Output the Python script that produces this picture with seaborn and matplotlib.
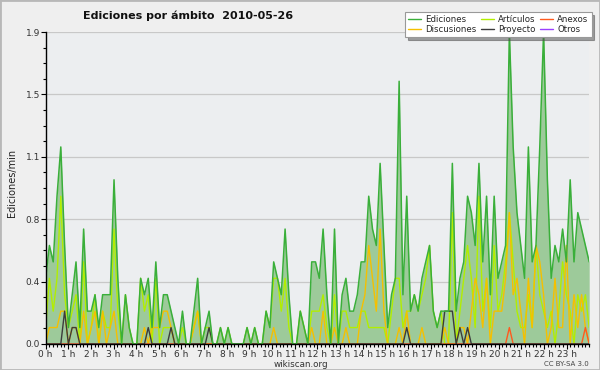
import numpy as np
import pandas as pd
import seaborn as sns
import matplotlib
matplotlib.use("Agg")
import matplotlib.pyplot as plt
from matplotlib.lines import Line2D
from matplotlib.patches import Rectangle
from matplotlib.ticker import FixedLocator, MultipleLocator

# ---- data: edits per minute, 10-minute buckets (144 per day) ----
ediciones = [
    0.4, 0.6, 0.5, 0.9, 1.2, 0.6,
    0.1, 0.3, 0.5, 0.1, 0.7, 0.2,
    0.2, 0.3, 0.1, 0.3, 0.3, 0.3,
    1.0, 0.4, 0.0, 0.3, 0.1, 0.0,
    0.0, 0.4, 0.3, 0.4, 0.1, 0.5,
    0.1, 0.3, 0.3, 0.2, 0.1, 0.0,
    0.2, 0.0, 0.0, 0.2, 0.4, 0.0,
    0.1, 0.2, 0.0, 0.0, 0.1, 0.0,
    0.1, 0.0, 0.0, 0.0, 0.0, 0.1,
    0.0, 0.1, 0.0, 0.0, 0.2, 0.1,
    0.5, 0.4, 0.3, 0.7, 0.3, 0.0,
    0.0, 0.2, 0.1, 0.0, 0.5, 0.5,
    0.4, 0.7, 0.3, 0.0, 0.7, 0.0,
    0.3, 0.4, 0.2, 0.2, 0.3, 0.5,
    0.5, 0.9, 0.7, 0.6, 1.1, 0.6,
    0.1, 0.3, 0.4, 1.6, 0.3, 0.9,
    0.2, 0.3, 0.2, 0.4, 0.5, 0.6,
    0.2, 0.1, 0.2, 0.2, 0.2, 1.1,
    0.2, 0.4, 0.5, 0.9, 0.8, 0.6,
    1.1, 0.5, 0.9, 0.3, 0.9, 0.4,
    0.5, 0.6, 1.9, 1.2, 0.8, 0.6,
    0.4, 1.2, 0.5, 0.6, 1.2, 1.9,
    1.0, 0.4, 0.6, 0.5, 0.7, 0.5,
    1.0, 0.5, 0.8, 0.7, 0.6, 0.5,
]
articulos = [
    0.1, 0.4, 0.2, 0.4, 0.9, 0.3,
    0.1, 0.2, 0.3, 0.0, 0.5, 0.0,
    0.1, 0.3, 0.0, 0.2, 0.1, 0.1,
    0.7, 0.2, 0.0, 0.3, 0.1, 0.0,
    0.0, 0.4, 0.2, 0.3, 0.0, 0.4,
    0.0, 0.1, 0.1, 0.1, 0.0, 0.0,
    0.1, 0.0, 0.0, 0.1, 0.2, 0.0,
    0.1, 0.1, 0.0, 0.0, 0.1, 0.0,
    0.1, 0.0, 0.0, 0.0, 0.0, 0.1,
    0.0, 0.1, 0.0, 0.0, 0.2, 0.1,
    0.4, 0.4, 0.2, 0.4, 0.1, 0.0,
    0.0, 0.2, 0.1, 0.0, 0.2, 0.2,
    0.2, 0.3, 0.1, 0.0, 0.3, 0.0,
    0.2, 0.2, 0.1, 0.1, 0.1, 0.2,
    0.2, 0.1, 0.1, 0.1, 0.1, 0.1,
    0.0, 0.2, 0.4, 0.4, 0.1, 0.2,
    0.2, 0.3, 0.2, 0.3, 0.4, 0.6,
    0.2, 0.1, 0.2, 0.0, 0.0, 0.8,
    0.0, 0.2, 0.4, 0.6, 0.4, 0.1,
    0.9, 0.2, 0.4, 0.1, 0.6, 0.2,
    0.3, 0.5, 0.8, 0.5, 0.2, 0.1,
    0.1, 0.3, 0.1, 0.6, 0.3, 0.2,
    0.1, 0.2, 0.0, 0.2, 0.5, 0.3,
    0.2, 0.0, 0.3, 0.2, 0.3, 0.1,
]
discusiones = [
    0.0, 0.1, 0.1, 0.1, 0.2, 0.2,
    0.0, 0.1, 0.1, 0.0, 0.2, 0.0,
    0.1, 0.2, 0.0, 0.2, 0.0, 0.1,
    0.2, 0.0, 0.0, 0.0, 0.0, 0.0,
    0.0, 0.0, 0.1, 0.0, 0.1, 0.1,
    0.1, 0.2, 0.2, 0.1, 0.0, 0.0,
    0.0, 0.0, 0.0, 0.1, 0.2, 0.0,
    0.0, 0.0, 0.0, 0.0, 0.0, 0.0,
    0.0, 0.0, 0.0, 0.0, 0.0, 0.0,
    0.0, 0.0, 0.0, 0.0, 0.0, 0.0,
    0.1, 0.0, 0.0, 0.0, 0.0, 0.0,
    0.0, 0.0, 0.0, 0.0, 0.1, 0.0,
    0.0, 0.2, 0.0, 0.0, 0.1, 0.0,
    0.0, 0.1, 0.0, 0.0, 0.0, 0.2,
    0.3, 0.6, 0.4, 0.2, 0.7, 0.2,
    0.0, 0.0, 0.0, 0.1, 0.0, 0.2,
    0.0, 0.0, 0.0, 0.1, 0.0, 0.0,
    0.0, 0.0, 0.0, 0.1, 0.0, 0.0,
    0.0, 0.1, 0.1, 0.0, 0.2, 0.4,
    0.3, 0.1, 0.4, 0.0, 0.2, 0.2,
    0.2, 0.4, 0.8, 0.3, 0.4, 0.2,
    0.0, 0.4, 0.1, 0.6, 0.5, 0.3,
    0.0, 0.1, 0.4, 0.1, 0.1, 0.6,
    0.0, 0.3, 0.1, 0.3, 0.1, 0.0,
]
proyecto = [
    0.0, 0.0, 0.0, 0.0, 0.0, 0.2,
    0.0, 0.1, 0.1, 0.0, 0.0, 0.0,
    0.0, 0.0, 0.0, 0.0, 0.0, 0.0,
    0.0, 0.0, 0.0, 0.0, 0.0, 0.0,
    0.0, 0.0, 0.0, 0.1, 0.0, 0.0,
    0.0, 0.0, 0.0, 0.1, 0.0, 0.0,
    0.0, 0.0, 0.0, 0.0, 0.0, 0.0,
    0.0, 0.1, 0.0, 0.0, 0.0, 0.0,
    0.0, 0.0, 0.0, 0.0, 0.0, 0.0,
    0.0, 0.0, 0.0, 0.0, 0.0, 0.0,
    0.0, 0.0, 0.0, 0.0, 0.0, 0.0,
    0.0, 0.0, 0.0, 0.0, 0.0, 0.0,
    0.0, 0.0, 0.0, 0.0, 0.0, 0.0,
    0.0, 0.0, 0.0, 0.0, 0.0, 0.0,
    0.0, 0.0, 0.0, 0.0, 0.0, 0.0,
    0.0, 0.0, 0.0, 0.0, 0.0, 0.1,
    0.0, 0.0, 0.0, 0.0, 0.0, 0.0,
    0.0, 0.0, 0.0, 0.2, 0.2, 0.2,
    0.0, 0.1, 0.0, 0.1, 0.0, 0.0,
    0.0, 0.0, 0.0, 0.0, 0.0, 0.0,
    0.0, 0.0, 0.0, 0.0, 0.0, 0.0,
    0.0, 0.0, 0.0, 0.0, 0.0, 0.0,
    0.0, 0.0, 0.0, 0.0, 0.0, 0.0,
    0.0, 0.0, 0.0, 0.0, 0.0, 0.0,
]
anexos = [0.0] * 144
anexos[122] = 0.1
anexos[142] = 0.1
otros = [0.0] * 144

hour_labels = [f"{h} h" for h in range(24)]
y_major = [0.0, 0.38, 0.76, 1.14, 1.52, 1.9]
y_labels = ["0.0", "0.4", "0.8", "1.1", "1.5", "1.9"]

colors = {
    "Ediciones": "#3aaf3a",
    "Artículos": "#b2ee00",
    "Anexos": "#ff5a1e",
    "Discusiones": "#f5c000",
    "Proyecto": "#3c3c3c",
    "Otros": "#9a40ff",
}

hours = np.linspace(0, 24, len(ediciones))
df = pd.DataFrame({
    "hora": hours,
    "Ediciones": ediciones,
    "Artículos": articulos,
    "Discusiones": discusiones,
    "Proyecto": proyecto,
    "Anexos": anexos,
    "Otros": otros,
})

sns.set_style("white")
plt.rcParams["font.family"] = ["DejaVu Sans"]

fig = plt.figure(figsize=(6.0, 3.7), dpi=100, facecolor="#efefef")
ax = fig.add_axes([0.076, 0.0703, 0.906, 0.8432])
ax.set_facecolor("#eceef0")

# fill under total
ax.fill_between(df["hora"], df["Ediciones"], 0, color="#9dca9a", linewidth=0, zorder=1)

for name in ["Otros", "Artículos", "Discusiones", "Anexos", "Proyecto"]:
    sns.lineplot(data=df, x="hora", y=name, ax=ax, color=colors[name],
                 linewidth=1.0, legend=False, zorder=3)
sns.lineplot(data=df, x="hora", y="Ediciones", ax=ax, color=colors["Ediciones"],
             linewidth=1.1, legend=False, zorder=4)

ax.set_xlim(0, 24)
ax.set_ylim(0, 1.9)
ax.set_xlabel("")
ax.set_ylabel("")

ax.yaxis.set_major_locator(FixedLocator(y_major))
ax.set_yticklabels(y_labels)
ax.yaxis.set_minor_locator(MultipleLocator(0.095))
ax.xaxis.set_major_locator(FixedLocator(list(range(24))))
ax.set_xticklabels(hour_labels)
ax.xaxis.set_minor_locator(MultipleLocator(1 / 6))

ax.grid(axis="y", which="major", color="#c8c8c8", linewidth=0.9, zorder=0)
ax.grid(axis="x", visible=False)
ax.set_axisbelow(True)

for s in ["top", "right"]:
    ax.spines[s].set_visible(False)
for s in ["left", "bottom"]:
    ax.spines[s].set_color("black")
    ax.spines[s].set_linewidth(1.0)
    ax.spines[s].set_zorder(6)

ax.tick_params(axis="both", which="both", direction="out", color="black",
               left=True, bottom=True, width=0.8)
ax.tick_params(axis="both", which="major", length=3.5, labelsize=6.5,
               labelcolor="#333333", pad=0.5)
ax.tick_params(axis="both", which="minor", length=2.5)

fig.text(0.313, 0.958, "Ediciones por ámbito  2010-05-26", ha="center", va="center",
         fontsize=8.0, fontweight="bold", color="#111111")
fig.text(0.02, 0.505, "Ediciones/min", rotation=90, ha="center", va="center",
         fontsize=7, color="#222222")
fig.text(0.502, 0.016, "wikiscan.org", ha="center", va="center", fontsize=6.3,
         color="#333333")
fig.text(0.981, 0.016, "CC BY-SA 3.0", ha="right", va="center", fontsize=5,
         color="#444444")

handles = [Line2D([], [], color=colors[n], linewidth=1.0) for n in
           ["Ediciones", "Discusiones", "Artículos", "Proyecto", "Anexos", "Otros"]]
labels = ["Ediciones", "Discusiones", "Artículos", "Proyecto", "Anexos", "Otros"]
leg = fig.legend(handles, labels, ncol=3, loc="upper right",
                 bbox_to_anchor=(0.986, 0.968), fontsize=6.2, frameon=True,
                 fancybox=False, shadow=True, handlelength=1.5, handletextpad=0.5,
                 columnspacing=0.5, labelspacing=0.1, borderpad=0.35,
                 borderaxespad=0.0)
leg.get_frame().set_edgecolor("#999999")
leg.get_frame().set_facecolor("white")
leg.get_frame().set_linewidth(0.8)
leg.set_zorder(10)

fig.patches.append(Rectangle((0, 0), 1, 1, transform=fig.transFigure, fill=False,
                             edgecolor="#b8b8b8", linewidth=2.0))

fig.savefig("out.png", dpi=100, facecolor=fig.get_facecolor())
